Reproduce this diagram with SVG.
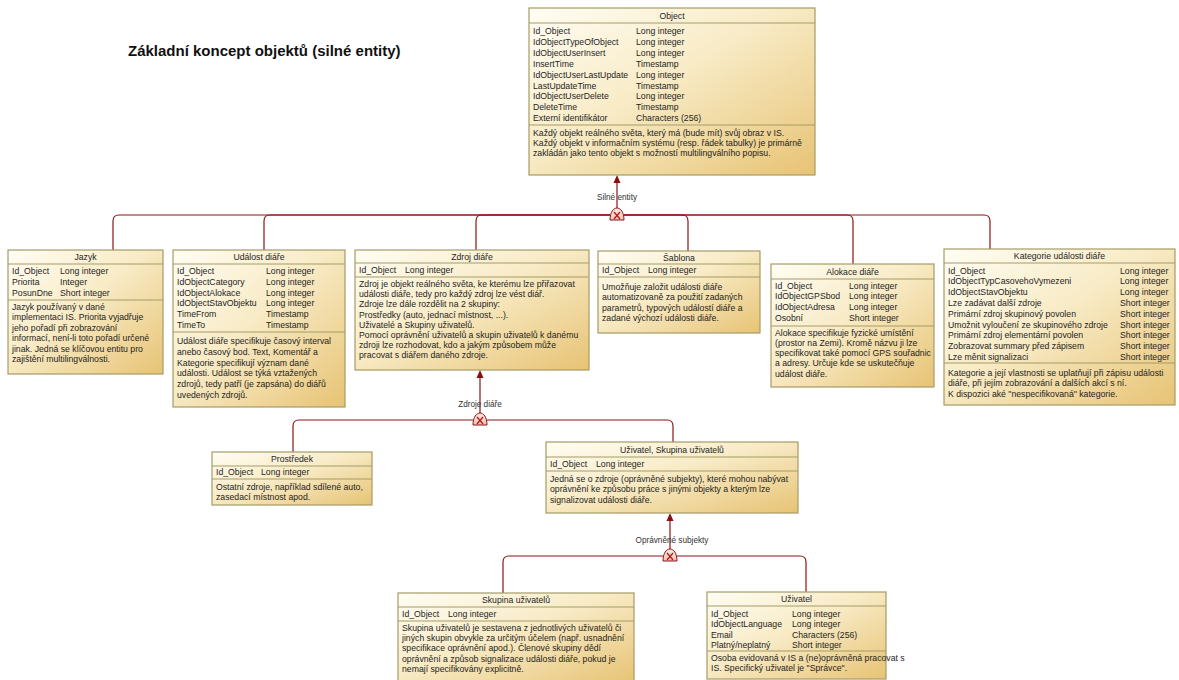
<svg xmlns="http://www.w3.org/2000/svg" width="1179" height="680" viewBox="0 0 1179 680">
  <defs>
    <linearGradient id="boxFill" x1="0" y1="0" x2="1" y2="1">
      <stop offset="0" stop-color="#fffdf4"/>
      <stop offset="0.45" stop-color="#f8ebc6"/>
      <stop offset="1" stop-color="#e7c374"/>
    </linearGradient>
    <linearGradient id="xorFill" x1="0" y1="0" x2="0" y2="1">
      <stop offset="0" stop-color="#fbe9e0"/>
      <stop offset="1" stop-color="#efc2b0"/>
    </linearGradient>
    <!-- exclusive inheritance symbol -->
    <g id="xor">
      <path d="M-7,5 C-7,-11 7,-11 7,5 Z" fill="url(#xorFill)" stroke="#8b1515" stroke-width="1"/>
      <path d="M-3,-3 L3,4 M3,-3 L-3,4" stroke="#b01818" stroke-width="1.2" fill="none"/>
    </g>
    <!-- arrowhead pointing up into the parent entity -->
    <path id="up" d="M0,0 L-3.5,8 L3.5,8 Z" fill="#8b0f0f"/>
  </defs>
  <style>
    .box { fill: url(#boxFill); stroke: #a59c66; stroke-width: 1.2; }
    .sep { stroke: #a59c66; stroke-width: 1; }
    .t { font-family: "Liberation Sans", Arial, sans-serif; font-size: 8.7px; fill: #1e1e1e; }
    .h { text-anchor: middle; }
    .lbl { font-family: "Liberation Sans", Arial, sans-serif; font-size: 8.2px; fill: #333; text-anchor: middle; }
    .con { stroke: #8b1515; stroke-width: 1.2; fill: none; }
    .title { font-family: "Liberation Sans", Arial, sans-serif; font-size: 15px; font-weight: bold; fill: #111; }
  </style>

  <rect width="1179" height="680" fill="#ffffff"/>

  <text class="title" x="128" y="56">Základní koncept objektů (silné entity)</text>

  <!-- connectors -->
  <g id="connectors">
    <!-- Object <- strong entities -->
    <use href="#up" x="617" y="175"/>
    <path class="con" d="M617,182 V208"/>
    <path class="con" d="M610,215 H119 Q113,215 113,221 V250"/>
    <path class="con" d="M610,215 H270 Q264,215 264,221 V250"/>
    <path class="con" d="M610,215 H482 Q476,215 476,221 V250"/>
    <path class="con" d="M624,215 H682 Q688,215 688,221 V251"/>
    <path class="con" d="M624,215 H847 Q853,215 853,221 V264"/>
    <path class="con" d="M624,215 H984 Q990,215 990,221 V249"/>
    <use href="#xor" x="617" y="215"/>
    <text class="lbl" x="617" y="200">Silné entity</text>

    <!-- Zdroj diáře <- sources -->
    <use href="#up" x="480" y="370"/>
    <path class="con" d="M480,377 V413"/>
    <path class="con" d="M473,420 H299 Q293,420 293,426 V452"/>
    <path class="con" d="M487,420 H667 Q673,420 673,426 V442"/>
    <use href="#xor" x="480" y="420"/>
    <text class="lbl" x="480" y="407">Zdroje diáře</text>

    <!-- Uživatel, Skupina uživatelů <- authorized subjects -->
    <use href="#up" x="670" y="513"/>
    <path class="con" d="M670,520 V549"/>
    <path class="con" d="M663,556 H509 Q503,556 503,562 V593"/>
    <path class="con" d="M677,556 H800 Q806,556 806,562 V592"/>
    <use href="#xor" x="670" y="556"/>
    <text class="lbl" x="672" y="543">Oprávněné subjekty</text>
  </g>

  <!-- Object -->
  <g id="n-object">
    <rect class="box" x="529" y="8" width="286" height="167"/>
    <line class="sep" x1="529" y1="23" x2="815" y2="23"/>
    <line class="sep" x1="529" y1="125" x2="815" y2="125"/>
    <text class="t h" x="672" y="19">Object</text>
    <text class="t" x="533" y="34">Id_Object</text><text class="t" x="636" y="34">Long integer</text>
    <text class="t" x="533" y="44.9">IdObjectTypeOfObject</text><text class="t" x="636" y="44.9">Long integer</text>
    <text class="t" x="533" y="55.8">IdObjectUserInsert</text><text class="t" x="636" y="55.8">Long integer</text>
    <text class="t" x="533" y="66.7">InsertTime</text><text class="t" x="636" y="66.7">Timestamp</text>
    <text class="t" x="533" y="77.6">IdObjectUserLastUpdate</text><text class="t" x="636" y="77.6">Long integer</text>
    <text class="t" x="533" y="88.5">LastUpdateTime</text><text class="t" x="636" y="88.5">Timestamp</text>
    <text class="t" x="533" y="99.4">IdObjectUserDelete</text><text class="t" x="636" y="99.4">Long integer</text>
    <text class="t" x="533" y="110.3">DeleteTime</text><text class="t" x="636" y="110.3">Timestamp</text>
    <text class="t" x="533" y="121.2">Externí identifikátor</text><text class="t" x="636" y="121.2">Characters (256)</text>
    <text class="t" x="533" y="136">Každý objekt reálného světa, který má (bude mít) svůj obraz v IS.</text>
    <text class="t" x="533" y="146">Každý objekt v informačním systému (resp. řádek tabulky)  je primárně</text>
    <text class="t" x="533" y="156">zakládán jako tento objekt s možností multilingválního popisu.</text>
  </g>

  <!-- Jazyk -->
  <g id="n-jazyk">
    <rect class="box" x="8" y="250" width="155" height="124"/>
    <line class="sep" x1="8" y1="264" x2="163" y2="264"/>
    <line class="sep" x1="8" y1="300" x2="163" y2="300"/>
    <text class="t h" x="85.5" y="260">Jazyk</text>
    <text class="t" x="12" y="273.5">Id_Object</text><text class="t" x="60" y="273.5">Long integer</text>
    <text class="t" x="12" y="284.5">Priorita</text><text class="t" x="60" y="284.5">Integer</text>
    <text class="t" x="12" y="295.5">PosunDne</text><text class="t" x="60" y="295.5">Short integer</text>
    <text class="t" x="12" y="309.5">Jazyk používaný v dané</text>
    <text class="t" x="12" y="320">implementaci IS. Priorita vyjadřuje</text>
    <text class="t" x="12" y="330.5">jeho pořadí při zobrazování</text>
    <text class="t" x="12" y="341">informací, není-li toto pořadí určené</text>
    <text class="t" x="12" y="351.5">jinak. Jedná se klíčovou entitu pro</text>
    <text class="t" x="12" y="362">zajištění multilingválnosti.</text>
  </g>

  <!-- Událost diáře -->
  <g id="n-udalost">
    <rect class="box" x="173" y="250" width="172" height="157"/>
    <line class="sep" x1="173" y1="264" x2="345" y2="264"/>
    <line class="sep" x1="173" y1="332" x2="345" y2="332"/>
    <text class="t h" x="259" y="260">Událost diáře</text>
    <text class="t" x="177" y="274">Id_Object</text><text class="t" x="266" y="274">Long integer</text>
    <text class="t" x="177" y="284.8">IdObjectCategory</text><text class="t" x="266" y="284.8">Long integer</text>
    <text class="t" x="177" y="295.6">IdObjectAlokace</text><text class="t" x="266" y="295.6">Long integer</text>
    <text class="t" x="177" y="306.4">IdObjectStavObjektu</text><text class="t" x="266" y="306.4">Long integer</text>
    <text class="t" x="177" y="317.2">TimeFrom</text><text class="t" x="266" y="317.2">Timestamp</text>
    <text class="t" x="177" y="328">TimeTo</text><text class="t" x="266" y="328">Timestamp</text>
    <text class="t" x="177" y="344">Událost diáře specifikuje časový interval</text>
    <text class="t" x="177" y="354.8">anebo časový bod. Text, Komentář a</text>
    <text class="t" x="177" y="365.6">Kategorie specifikují význam dané</text>
    <text class="t" x="177" y="376.4">události. Událost se týká vztažených</text>
    <text class="t" x="177" y="387.2">zdrojů, tedy patří (je zapsána) do diářů</text>
    <text class="t" x="177" y="398">uvedených zdrojů.</text>
  </g>

  <!-- Zdroj diáře -->
  <g id="n-zdroj">
    <rect class="box" x="355" y="250" width="234" height="120"/>
    <line class="sep" x1="355" y1="263" x2="589" y2="263"/>
    <line class="sep" x1="355" y1="277" x2="589" y2="277"/>
    <text class="t h" x="472" y="259.5">Zdroj diáře</text>
    <text class="t" x="359" y="273">Id_Object</text><text class="t" x="405" y="273">Long integer</text>
    <text class="t" x="359" y="287">Zdroj je objekt reálného světa, ke kterému lze přiřazovat</text>
    <text class="t" x="359" y="297.2">události diáře, tedy pro každý zdroj lze vést diář.</text>
    <text class="t" x="359" y="307.4">Zdroje lze dále rozdělit na 2 skupiny:</text>
    <text class="t" x="359" y="317.6">Prostředky (auto, jednací místnost, ...).</text>
    <text class="t" x="359" y="327.8">Uživatelé a Skupiny uživatelů.</text>
    <text class="t" x="359" y="338">Pomocí oprávnění uživatelů a skupin uživatelů k danému</text>
    <text class="t" x="359" y="348.2">zdroji lze rozhodovat, kdo a jakým způsobem může</text>
    <text class="t" x="359" y="358.4">pracovat s diářem daného zdroje.</text>
  </g>

  <!-- Šablona -->
  <g id="n-sablona">
    <rect class="box" x="598" y="251" width="162" height="82"/>
    <line class="sep" x1="598" y1="264" x2="760" y2="264"/>
    <line class="sep" x1="598" y1="277" x2="760" y2="277"/>
    <text class="t h" x="679" y="260.5">Šablona</text>
    <text class="t" x="602" y="273">Id_Object</text><text class="t" x="648" y="273">Long integer</text>
    <text class="t" x="602" y="290">Umožňuje založit události diáře</text>
    <text class="t" x="602" y="300.3">automatizovaně za použití zadaných</text>
    <text class="t" x="602" y="310.6">parametrů,  typových událostí diáře a</text>
    <text class="t" x="602" y="320.9">zadané výchozí události diáře.</text>
  </g>

  <!-- Alokace diáře -->
  <g id="n-alokace">
    <rect class="box" x="771" y="264" width="163" height="123"/>
    <line class="sep" x1="771" y1="279" x2="934" y2="279"/>
    <line class="sep" x1="771" y1="326" x2="934" y2="326"/>
    <text class="t h" x="852.5" y="275">Alokace diáře</text>
    <text class="t" x="775" y="288.5">Id_Object</text><text class="t" x="849" y="288.5">Long integer</text>
    <text class="t" x="775" y="299.3">IdObjectGPSbod</text><text class="t" x="849" y="299.3">Long integer</text>
    <text class="t" x="775" y="310.1">IdObjectAdresa</text><text class="t" x="849" y="310.1">Long integer</text>
    <text class="t" x="775" y="320.9">Osobní</text><text class="t" x="849" y="320.9">Short integer</text>
    <text class="t" x="775" y="335.5">Alokace specifikuje fyzické umístění</text>
    <text class="t" x="775" y="345.8">(prostor na Zemi). Kromě názvu ji lze</text>
    <text class="t" x="775" y="356.1">specifikovat také pomocí GPS souřadnic</text>
    <text class="t" x="775" y="366.4"> a adresy. Určuje kde se uskutečňuje</text>
    <text class="t" x="775" y="376.7">událost diáře.</text>
  </g>

  <!-- Kategorie události diáře -->
  <g id="n-kategorie">
    <rect class="box" x="944" y="249" width="231" height="156"/>
    <line class="sep" x1="944" y1="263" x2="1175" y2="263"/>
    <line class="sep" x1="944" y1="363" x2="1175" y2="363"/>
    <text class="t h" x="1059.5" y="259">Kategorie události diáře</text>
    <text class="t" x="948" y="273.5">Id_Object</text><text class="t" x="1120" y="273.5">Long integer</text>
    <text class="t" x="948" y="284.3">IdObjectTypCasovehoVymezeni</text><text class="t" x="1120" y="284.3">Long integer</text>
    <text class="t" x="948" y="295.1">IdObjectStavObjektu</text><text class="t" x="1120" y="295.1">Long integer</text>
    <text class="t" x="948" y="305.9">Lze zadávat další zdroje</text><text class="t" x="1120" y="305.9">Short integer</text>
    <text class="t" x="948" y="316.7">Primární zdroj skupinový povolen</text><text class="t" x="1120" y="316.7">Short integer</text>
    <text class="t" x="948" y="327.5">Umožnit vyloučení ze skupinového zdroje</text><text class="t" x="1120" y="327.5">Short integer</text>
    <text class="t" x="948" y="338.3">Primární zdroj elementární povolen</text><text class="t" x="1120" y="338.3">Short integer</text>
    <text class="t" x="948" y="349.1">Zobrazovat summary před zápisem</text><text class="t" x="1120" y="349.1">Short integer</text>
    <text class="t" x="948" y="359.9">Lze měnit signalizaci</text><text class="t" x="1120" y="359.9">Short integer</text>
    <text class="t" x="948" y="376">Kategorie a její vlastnosti se uplatňují při zápisu události</text>
    <text class="t" x="948" y="386.3">diáře, při jejím zobrazování a dalších akcí s ní.</text>
    <text class="t" x="948" y="396.6">K dispozici aké "nespecifikovaná" kategorie.</text>
  </g>

  <!-- Prostředek -->
  <g id="n-prostredek">
    <rect class="box" x="212" y="452" width="160" height="53"/>
    <line class="sep" x1="212" y1="466" x2="372" y2="466"/>
    <line class="sep" x1="212" y1="479" x2="372" y2="479"/>
    <text class="t h" x="292" y="462">Prostředek</text>
    <text class="t" x="216" y="475">Id_Object</text><text class="t" x="261" y="475">Long integer</text>
    <text class="t" x="216" y="490">Ostatní zdroje, například sdílené auto,</text>
    <text class="t" x="216" y="500">zasedací místnost apod.</text>
  </g>

  <!-- Uživatel, Skupina uživatelů -->
  <g id="n-uzivatel-skupina">
    <rect class="box" x="546" y="442" width="252" height="71"/>
    <line class="sep" x1="546" y1="457" x2="798" y2="457"/>
    <line class="sep" x1="546" y1="471" x2="798" y2="471"/>
    <text class="t h" x="672" y="453">Uživatel, Skupina uživatelů</text>
    <text class="t" x="550" y="466.8">Id_Object</text><text class="t" x="596" y="466.8">Long integer</text>
    <text class="t" x="550" y="482">Jedná se o zdroje (oprávněné subjekty), které mohou nabývat</text>
    <text class="t" x="550" y="492.3">oprávnění ke způsobu práce s jinými objekty a kterým lze</text>
    <text class="t" x="550" y="502.6">signalizovat události diáře.</text>
  </g>

  <!-- Skupina uživatelů -->
  <g id="n-skupina">
    <rect class="box" x="398" y="593" width="236" height="90"/>
    <line class="sep" x1="398" y1="607" x2="634" y2="607"/>
    <line class="sep" x1="398" y1="621" x2="634" y2="621"/>
    <text class="t h" x="516" y="603">Skupina uživatelů</text>
    <text class="t" x="402" y="616.5">Id_Object</text><text class="t" x="448" y="616.5">Long integer</text>
    <text class="t" x="402" y="631">Skupina uživatelů je sestavena z jednotlivých uživatelů či</text>
    <text class="t" x="402" y="641.2">jiných skupin obvykle za určitým účelem (např. usnadnění</text>
    <text class="t" x="402" y="651.4">specifikace oprávnění apod.). Členové skupiny dědí</text>
    <text class="t" x="402" y="661.6">oprávnění a způsob signalizace události diáře, pokud je</text>
    <text class="t" x="402" y="671.8">nemají specifikovány explicitně.</text>
  </g>

  <!-- Uživatel -->
  <g id="n-uzivatel">
    <rect class="box" x="707" y="592" width="179" height="87"/>
    <line class="sep" x1="707" y1="606" x2="886" y2="606"/>
    <line class="sep" x1="707" y1="651" x2="886" y2="651"/>
    <text class="t h" x="796.5" y="602">Uživatel</text>
    <text class="t" x="711" y="617">Id_Object</text><text class="t" x="792" y="617">Long integer</text>
    <text class="t" x="711" y="627.3">IdObjectLanguage</text><text class="t" x="792" y="627.3">Long integer</text>
    <text class="t" x="711" y="637.6">Email</text><text class="t" x="792" y="637.6">Characters (256)</text>
    <text class="t" x="711" y="647.9">Platný/neplatný</text><text class="t" x="792" y="647.9">Short integer</text>
    <text class="t" x="711" y="661">Osoba evidovaná v IS a (ne)oprávněná pracovat s</text>
    <text class="t" x="711" y="671">IS. Specifický uživatel je "Správce".</text>
  </g>
</svg>
